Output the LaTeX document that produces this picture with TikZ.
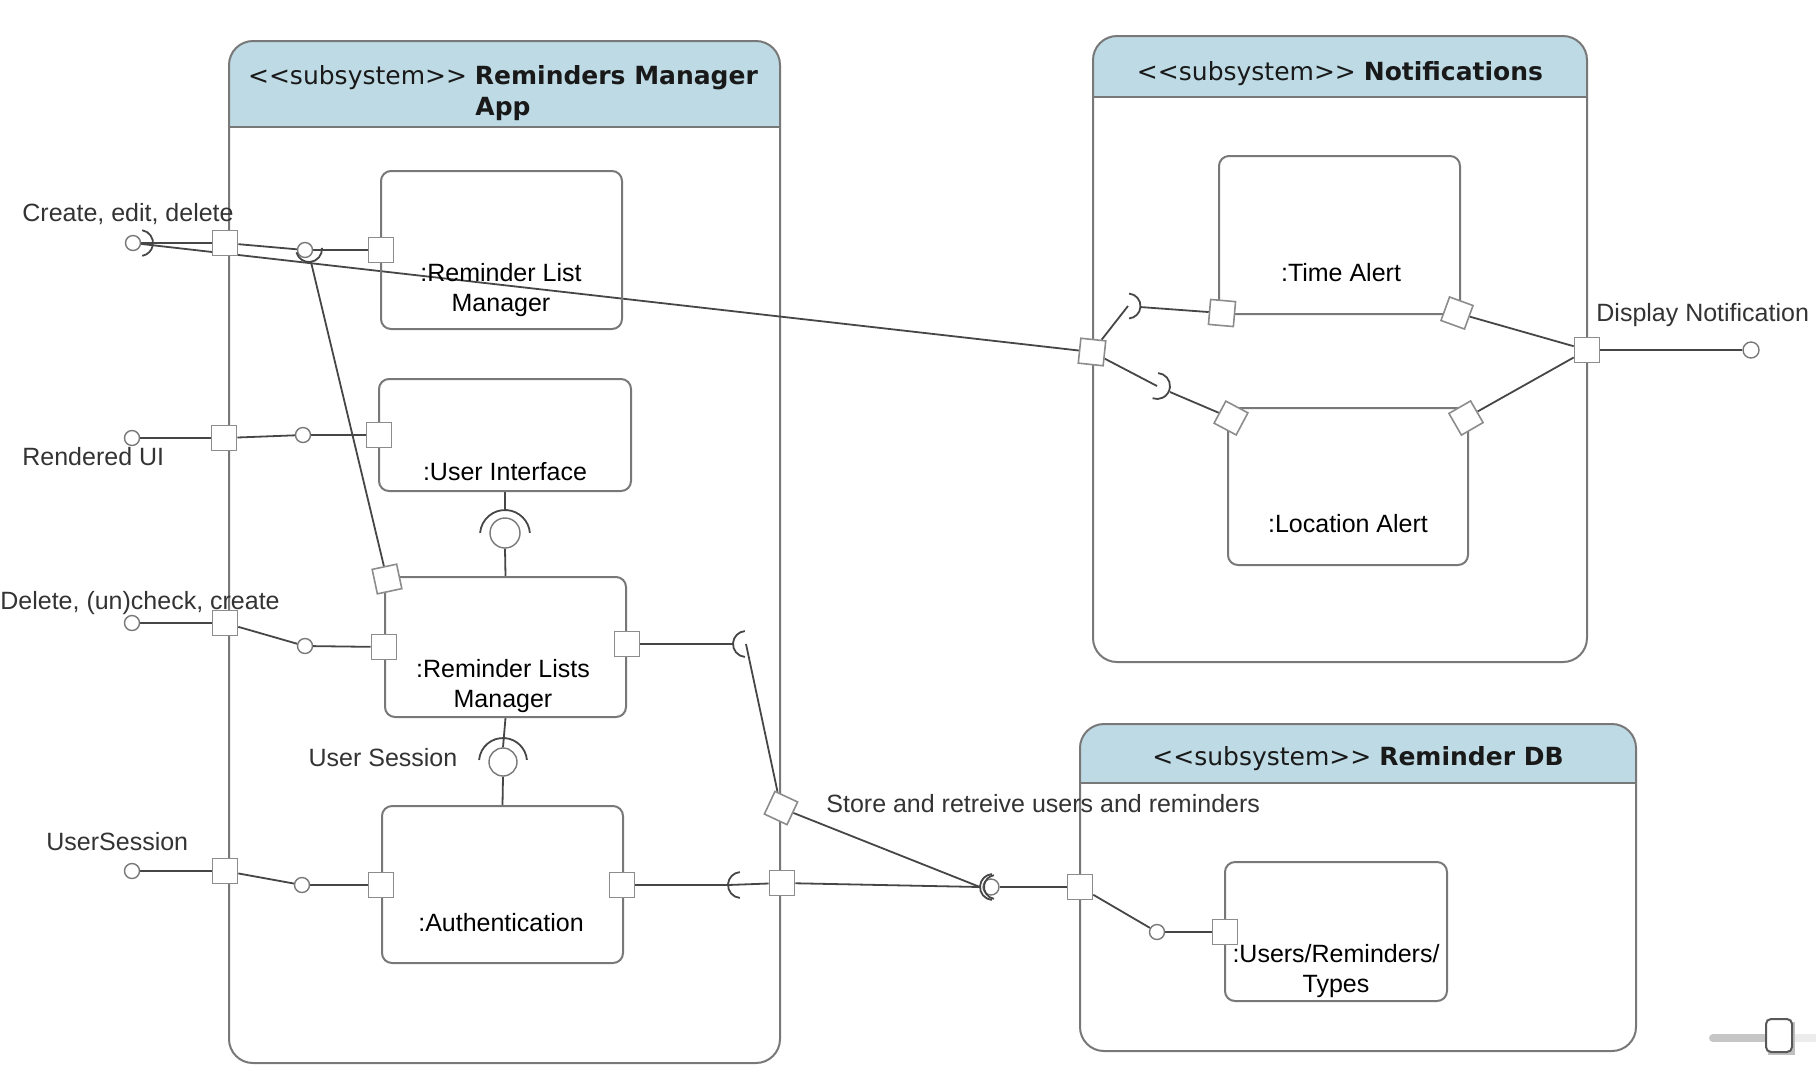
\documentclass[tikz,border=0pt]{standalone}
\usepackage{fontspec}
\setmainfont{Liberation Sans}
\newfontfamily\hdrfont{DejaVu Sans}
\usepackage{tikz}
\definecolor{hdrblue}{RGB}{190,219,229}
\definecolor{boxgray}{RGB}{120,120,120}
\definecolor{portgray}{RGB}{140,140,140}
\definecolor{linegray}{RGB}{70,70,70}
\definecolor{txtgray}{RGB}{51,51,51}
\pgfdeclarelayer{back}
\pgfdeclarelayer{wires}
\pgfsetlayers{back,wires,main}

\begin{document}
\begin{tikzpicture}[x=0.5pt, y=-0.5pt,
  comp/.style={draw=boxgray, line width=1pt, rounded corners=5pt, inner sep=0pt},
  port/.style={draw=portgray, fill=white, line width=0.8pt, minimum size=12.5pt, inner sep=0pt},
  ball/.style={circle, draw=boxgray, fill=white, line width=0.7pt, minimum size=7.5pt, inner sep=0pt},
  bigball/.style={ball, minimum size=15pt},
  conn/.style={draw=linegray, line width=0.9pt},
  lbl/.style={text=txtgray, font=\fontsize{12.5}{14.5}\selectfont, inner sep=0pt},
  comptxt/.style={align=center, font=\fontsize{12.5}{14.8}\selectfont, inner sep=0pt},
  hdr/.style={align=center, text=black!90, font=\hdrfont\fontsize{12.5}{15.5}\selectfont, inner sep=0pt}]
\useasboundingbox (0,0) rectangle (1816,1084);
\begin{pgfonlayer}{back}
% draws subsystems
\begin{scope}
\clip (229,41) rectangle (780,127);
\fill[hdrblue, rounded corners=12pt] (229,41) rectangle (780,1063);
\end{scope}
\draw[boxgray, line width=1pt, rounded corners=12pt] (229,41) rectangle (780,1063);
\draw[boxgray, line width=1pt] (229,127) -- (780,127);
\begin{scope}
\clip (1093,36) rectangle (1587,97);
\fill[hdrblue, rounded corners=12pt] (1093,36) rectangle (1587,662);
\end{scope}
\draw[boxgray, line width=1pt, rounded corners=12pt] (1093,36) rectangle (1587,662);
\draw[boxgray, line width=1pt] (1093,97) -- (1587,97);
\begin{scope}
\clip (1080,724) rectangle (1636,783);
\fill[hdrblue, rounded corners=12pt] (1080,724) rectangle (1636,1051);
\end{scope}
\draw[boxgray, line width=1pt, rounded corners=12pt] (1080,724) rectangle (1636,1051);
\draw[boxgray, line width=1pt] (1080,783) -- (1636,783);
% slider
\fill[gray!45] (1713,1034) rectangle (1780,1042);
\fill[gray!45] (1713,1038) circle (4);
\fill[gray!15] (1780,1034) rectangle (1816,1042);
\fill[black!25] (1768,1022) rectangle (1795,1055);
\filldraw[fill=white, draw=black!65, line width=1pt, rounded corners=2.5pt] (1766,1019) rectangle (1792,1052);
\end{pgfonlayer}
% labels subsystems
\node[hdr] (hdrapp) at (503,93) {<\kern0pt<subsystem>\kern0pt> \textbf{Reminders Manager}\\\textbf{App}};
\node[hdr] (hdrnotif) at (1340,74) {<\kern0pt<subsystem>\kern0pt> \textbf{Notifications}};
\node[hdr] (hdrdb) at (1358,759) {<\kern0pt<subsystem>\kern0pt> \textbf{Reminder DB}};
% draws components
\node[comp, minimum width=120.5pt, minimum height=79pt] (rlmgr) at (501.5,250) {};
\node[comp, minimum width=126pt, minimum height=56pt] (ui) at (505,435) {};
\node[comp, minimum width=120.5pt, minimum height=70pt] (rlsmgr) at (505.5,647) {};
\node[comp, minimum width=120.5pt, minimum height=78.5pt] (auth) at (502.5,884.5) {};
\node[comp, minimum width=120.5pt, minimum height=79pt] (talert) at (1339.5,235) {};
\node[comp, minimum width=120pt, minimum height=78.5pt] (lalert) at (1348,486.5) {};
\node[comp, minimum width=111pt, minimum height=69.5pt] (usersdb) at (1336,931.5) {};
% labels components
\node[comptxt] (rlmgrtxt) at (501,290) {:Reminder List\\Manager};
\node[comptxt] (uitxt) at (505,472) {:User Interface};
\node[comptxt] (rlsmgrtxt) at (503,686) {:Reminder Lists\\Manager};
\node[comptxt] (authtxt) at (501,923) {:Authentication};
\node[comptxt] (talerttxt) at (1341,273) {:Time Alert};
\node[comptxt] (lalerttxt) at (1348,524) {:Location Alert};
\node[comptxt] (usersdbtxt) at (1336,971) {:Users/Reminders/\\Types};
% draws ports
\node[port] (pcreate) at (225,243) {};
\node[port] (prendered) at (224,438) {};
\node[port] (pdelete) at (225,623) {};
\node[port] (psession) at (225,871) {};
\node[port] (prlm) at (381,250) {};
\node[port] (pui) at (379,435) {};
\node[port] (prlsleft) at (384,647) {};
\node[port] (prlsright) at (627,644) {};
\node[port, rotate=12] (prlsslant) at (387,579) {};
\node[port] (pauthleft) at (381,885) {};
\node[port] (pauthright) at (622,885) {};
\node[port, rotate=-25] (pslant) at (781,808) {};
\node[port] (pout) at (782,883) {};
\node[port, rotate=-6] (pnotif) at (1092,352) {};
\node[port, rotate=-5] (ptaleft) at (1222,313) {};
\node[port, rotate=-20] (ptaright) at (1457,313) {};
\node[port, rotate=-28] (plaleft) at (1231,418) {};
\node[port, rotate=30] (plaright) at (1466,418) {};
\node[port] (pdisplay) at (1587,350) {};
\node[port] (pdb) at (1080,887) {};
\node[port] (pusers) at (1225,932) {};
% draws interfaces
\node[ball] (bcreate) at (133,243) {};
\node[ball] (brlm) at (305,250) {};
\node[ball] (brendered) at (132,438) {};
\node[ball] (bui) at (303,435) {};
\node[bigball] (buibig) at (505,533) {};
\node[ball] (bdelete) at (132,623) {};
\node[ball] (brls) at (305,646) {};
\node[bigball, minimum size=14pt] (bauthbig) at (503,762) {};
\node[ball] (bsession) at (132,871) {};
\node[ball] (bauth) at (302,885) {};
\node[ball, minimum size=8pt] (bdb) at (991,887) {};
\node[ball] (busers) at (1157,932) {};
\node[ball, minimum size=8pt] (bdisplay) at (1751,350) {};
\coordinate (screate) at (140,243);
\coordinate (srlm) at (309,249);
\coordinate (srlmlow) at (311,262);
\coordinate (sui) at (505,535);
\coordinate (suitop) at (505,510);
\coordinate (sauth) at (503,762);
\coordinate (srls) at (746,644);
\coordinate (srlsmouth) at (733,644);
\coordinate (sauthout) at (741,885);
\coordinate (sauthmouth) at (728,885);
\coordinate (sdb) at (993,887);
\coordinate (sdbmouth) at (980,887);
\coordinate (sta) at (1128,306);
\coordinate (stain) at (1140,307);
\coordinate (sla) at (1157,386);
\coordinate (slain) at (1170,392);
% draws sockets
\draw[conn] (screate) ++(-80:13) arc[start angle=-80, end angle=80, radius=13];
\draw[conn] (srlm) ++(-5:13) arc[start angle=-5, end angle=165, radius=13];
\draw[conn] (sui) ++(185:25) arc[start angle=185, end angle=355, radius=25];
\draw[conn] (sauth) ++(185:24) arc[start angle=185, end angle=355, radius=24];
\draw[conn] (srls) ++(95:13) arc[start angle=95, end angle=265, radius=13];
\draw[conn] (sauthout) ++(95:13) arc[start angle=95, end angle=265, radius=13];
\draw[conn] (sdb) ++(95:13) arc[start angle=95, end angle=265, radius=13];
\draw[conn] ([xshift=1.5pt]sdb) ++(100:12) arc[start angle=100, end angle=260, radius=12];
\draw[conn] (sta) ++(-85:12.5) arc[start angle=-85, end angle=85, radius=12.5];
\draw[conn] (sla) ++(-85:13) arc[start angle=-85, end angle=110, radius=13];
% labels interfaces
\node[lbl, anchor=west] (lcreate) at (22,214) {Create, edit, delete};
\node[lbl, anchor=west] (lrendered) at (22,457) {Rendered UI};
\node[lbl, anchor=west] (ldelete) at (0,603) {Delete, (un)check, create};
\node[lbl, anchor=west] (lsession) at (46,842) {UserSession};
\node[lbl] (luser) at (383,758) {User Session};
\node[lbl, anchor=west] (lstore) at (826,804) {Store and retreive users and reminders};
\node[lbl, anchor=west] (ldisplay) at (1596,315) {Display Notification};
% draws connectors
\begin{pgfonlayer}{wires}
\draw[conn] (bcreate) -- (pcreate);
\draw[conn] (pcreate) -- (brlm);
\draw[conn] (brlm) -- (prlm);
\draw[conn] (bcreate) -- (pnotif);
\draw[conn] (srlmlow) -- (prlsslant);
\draw[conn] (brendered) -- (prendered);
\draw[conn] (prendered) -- (bui);
\draw[conn] (bui) -- (pui);
\draw[conn] (ui.south) -- (suitop);
\draw[conn] (buibig.south) -- (rlsmgr.north);
\draw[conn] (bdelete) -- (pdelete);
\draw[conn] (pdelete) -- (brls);
\draw[conn] (brls) -- (prlsleft);
\draw[conn] (rlsmgr.south) -- (bauthbig.north);
\draw[conn] (bauthbig.south) -- (auth.north);
\draw[conn] (bsession) -- (psession);
\draw[conn] (psession) -- (bauth);
\draw[conn] (bauth) -- (pauthleft);
\draw[conn] (prlsright) -- (srlsmouth);
\draw[conn] (srls) -- (pslant);
\draw[conn] (pauthright) -- (sauthmouth);
\draw[conn] (sauthmouth) -- (pout);
\draw[conn] (pslant) -- (sdbmouth);
\draw[conn] (pout) -- (sdbmouth);
\draw[conn] (bdb) -- (pdb);
\draw[conn] (pdb) -- (busers);
\draw[conn] (busers) -- (pusers);
\draw[conn] (pnotif) -- (sta);
\draw[conn] (stain) -- (ptaleft);
\draw[conn] (pnotif) -- (sla);
\draw[conn] (slain) -- (plaleft);
\draw[conn] (ptaright) -- (pdisplay);
\draw[conn] (plaright) -- (pdisplay);
\draw[conn] (pdisplay) -- (bdisplay);
\end{pgfonlayer}
\end{tikzpicture}
\end{document}
